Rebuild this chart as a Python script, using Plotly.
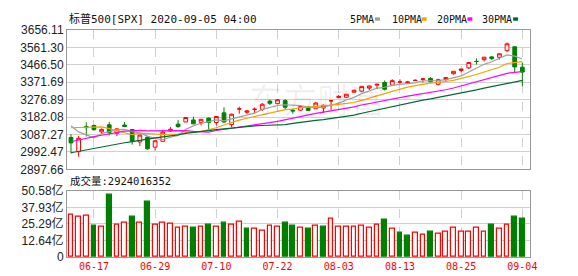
import plotly.graph_objects as go
import pandas as pd

# ---------------- data ----------------
dates = ["06-12","06-15","06-16","06-17","06-18","06-19","06-22","06-23","06-24","06-25",
         "06-26","06-29","06-30","07-01","07-02","07-06","07-07","07-08","07-09","07-10",
         "07-13","07-14","07-15","07-16","07-17","07-20","07-21","07-22","07-23","07-24",
         "07-27","07-28","07-29","07-30","07-31","08-03","08-04","08-05","08-06","08-07",
         "08-10","08-11","08-12","08-13","08-14","08-17","08-18","08-19","08-20","08-21",
         "08-24","08-25","08-26","08-27","08-28","08-31","09-01","09-02","09-03","09-04"]

opens = [3071.04,2993.76,3131.00,3136.13,3101.64,3140.29,3094.42,3138.70,3114.40,3046.60,
         3073.20,3018.59,3050.20,3105.92,3143.64,3155.29,3166.44,3153.07,3176.17,3152.47,
         3205.08,3141.11,3225.98,3208.36,3224.21,3224.29,3268.52,3254.86,3271.64,3218.58,
         3219.84,3234.27,3227.22,3231.76,3270.45,3288.26,3289.92,3317.37,3323.17,3340.05,
         3356.04,3370.34,3355.46,3372.95,3368.66,3380.86,3387.04,3392.51,3360.48,3386.01,
         3418.09,3435.95,3449.97,3485.14,3494.69,3509.73,3507.44,3543.76,3564.74,3453.60]
highs = [3088.42,3079.76,3153.45,3141.16,3120.00,3155.53,3120.92,3154.90,3115.01,3086.25,
         3073.73,3053.89,3111.51,3128.44,3165.81,3182.59,3184.15,3171.80,3179.78,3186.82,
         3235.32,3200.95,3238.28,3220.39,3233.52,3258.61,3277.29,3279.32,3279.99,3227.26,
         3241.43,3243.72,3264.74,3250.92,3272.17,3302.73,3306.84,3330.77,3351.03,3352.54,
         3363.29,3381.01,3387.89,3387.24,3378.51,3387.59,3395.06,3399.54,3390.80,3399.96,
         3432.09,3444.21,3481.07,3501.38,3509.23,3514.77,3528.03,3588.11,3564.85,3479.15]
lows = [2984.47,2965.66,3076.06,3108.03,3093.51,3083.11,3079.39,3127.12,3032.13,3024.01,
        3004.63,2999.74,3047.83,3101.17,3124.52,3155.29,3142.93,3136.53,3115.70,3136.22,
        3149.43,3127.66,3200.76,3198.59,3205.65,3215.16,3247.77,3253.10,3222.66,3200.05,
        3214.25,3216.17,3227.22,3204.13,3220.26,3284.53,3286.37,3317.37,3318.14,3328.72,
        3335.44,3326.44,3355.46,3363.35,3361.64,3379.22,3370.15,3369.66,3354.69,3379.31,
        3413.13,3425.84,3444.15,3468.35,3484.32,3493.25,3494.60,3535.23,3427.41,3349.63]
closes = [3041.31,3066.59,3124.74,3113.49,3115.34,3097.74,3117.86,3131.29,3050.33,3083.76,
          3009.05,3053.24,3100.29,3115.86,3130.01,3179.72,3145.32,3169.94,3152.05,3185.04,
          3155.22,3197.52,3226.56,3215.57,3224.73,3251.84,3257.30,3276.02,3235.66,3215.63,
          3239.41,3218.44,3258.44,3246.22,3271.12,3294.61,3306.51,3327.77,3349.16,3351.28,
          3360.47,3333.69,3380.35,3373.43,3372.85,3381.99,3389.78,3374.85,3385.51,3397.16,
          3431.28,3443.62,3478.73,3484.55,3508.01,3500.31,3526.65,3580.84,3455.06,3426.96]
# closes of the 29 sessions before 06-12 (needed for the moving averages)
prior_closes = [2830.71,2842.74,2868.44,2848.42,2881.19,2929.80,2930.19,2870.12,2820.00,2852.50,
                2863.70,2953.91,2922.94,2971.61,2948.51,2955.45,2991.77,3036.13,3029.73,3044.31,
                3055.73,3080.82,3122.87,3112.35,3193.93,3232.39,3207.18,3190.14,3002.10]

# volume in 亿 (1e8)
volumes = [32.6,30.4,31.8,23.9,23.0,47.4,24.4,26.4,31.1,25.9,
           42.2,24.9,26.4,25.7,22.2,23.0,22.2,23.0,24.4,23.0,
           25.9,24.9,27.2,21.5,21.5,19.8,23.5,23.0,25.9,23.9,
           22.2,21.5,23.7,23.0,29.4,23.0,23.0,23.0,23.7,22.2,
           24.4,28.1,21.2,18.5,16.3,18.3,17.0,19.3,17.8,19.3,
           22.0,19.3,19.3,22.0,19.3,24.4,21.5,24.9,30.4,29.24]

tick_dates = ["06-17","06-29","07-10","07-22","08-03","08-13","08-25","09-04"]
price_ticks = [2897.66,2992.47,3087.27,3182.08,3276.89,3371.69,3466.50,3561.30,3656.11]
price_tick_text = ["2897.66","2992.47","3087.27","3182.08","3276.89","3371.69","3466.50","3561.30","3656.11"]
vol_ticks = [0,12.64,25.29,37.93,50.58]
vol_tick_text = ["0","12.64亿","25.29亿","37.93亿","50.58亿"]
ma_periods = [5,10,20,30]
ma_names = ["5PMA","10PMA","20PMA","30PMA"]
title_text = "标普500[SPX] 2020-09-05 04:00"
vol_text = "成交量:2924016352"

# ---------------- styling ----------------
RED = "#ff0000"
GREEN = "#008000"
MA_COLORS = ["#a0a0a0", "#f5a300", "#ff00ff", "#006b30"]
GRID = "#d0d0d0"
BORDER = "#999999"

L, R, T, B = 56, 56, 22, 21
W, H = 578, 276
PW, PH = W - L - R, H - T - B
def px(xp):  # pixel -> paper x
    return (xp - L) / PW
def py(yp):  # pixel -> paper y
    return (H - B - yp) / PH

n = len(dates)
xs = list(range(n))
all_closes = pd.Series(prior_closes + closes)
prev_close = [prior_closes[-1]] + closes[:-1]

fig = go.Figure()

# moving averages
for per, name, col in zip(ma_periods, ma_names, MA_COLORS):
    ma = all_closes.rolling(per).mean().iloc[-n:].tolist()
    fig.add_trace(go.Scatter(x=xs, y=ma, mode="lines", line=dict(color=col, width=1.2),
                             name=name, xaxis="x", yaxis="y", hoverinfo="skip"))

fig.add_trace(go.Candlestick(
    x=xs, open=opens, high=highs, low=lows, close=closes,
    increasing=dict(line=dict(color=RED, width=1), fillcolor="#ffffff"),
    decreasing=dict(line=dict(color=GREEN, width=1), fillcolor=GREEN),
    whiskerwidth=0, xaxis="x", yaxis="y", name="SPX"))

up = [c >= p for c, p in zip(closes, prev_close)]
fig.add_trace(go.Bar(
    x=xs, y=volumes, width=0.62, xaxis="x2", yaxis="y2",
    marker=dict(color=["#ffffff" if u else GREEN for u in up],
                line=dict(color=[RED if u else GREEN for u in up], width=1.2))))

tickvals = [dates.index(d) for d in tick_dates]

common_x = dict(range=[-0.52, 60.0], tickvals=tickvals, showgrid=True, griddash="dash",
                gridcolor=GRID, gridwidth=1, showline=True, mirror=True, linecolor=BORDER,
                linewidth=1, zeroline=False, ticks="", fixedrange=True)
fig.update_layout(
    width=W, height=H, margin=dict(l=L, r=R, t=T, b=B),
    paper_bgcolor="white", plot_bgcolor="white", showlegend=False,
    xaxis=dict(common_x, domain=[0, 1], anchor="y", showticklabels=False,
               rangeslider=dict(visible=False)),
    xaxis2=dict(common_x, domain=[0, 1], anchor="y2", matches="x",
                ticktext=tick_dates, showticklabels=True,
                tickfont=dict(family="DejaVu Sans Mono", size=10, color=RED)),
    yaxis=dict(domain=[py(165), 1], range=[price_ticks[0], price_ticks[-1]],
               tickvals=price_ticks, ticktext=price_tick_text, showgrid=True,
               gridcolor=GRID, showline=True, mirror=True, linecolor=BORDER,
               zeroline=False, ticks="",
               tickfont=dict(family="Liberation Sans", size=12, color="#222222")),
    yaxis2=dict(domain=[0, py(187)], range=[0, 50.58],
                tickvals=vol_ticks, ticktext=vol_tick_text, showgrid=True,
                gridcolor=GRID, showline=True, mirror=True, linecolor=BORDER,
                zeroline=False, ticks="",
                tickfont=dict(family="Liberation Sans, Noto Sans CJK SC", size=12, color="#222222")),
    bargap=0,
)

mono = "DejaVu Sans Mono, Noto Sans CJK SC"
ann = [
    dict(text=title_text, x=px(56), y=py(11), xanchor="left", yanchor="middle",
         font=dict(family=mono, size=11, color="#111111")),
    dict(text=vol_text, x=px(57), y=py(177), xanchor="left", yanchor="middle",
         font=dict(family=mono, size=10.5, color="#111111")),
    dict(text="东方财富", x=px(308), y=py(92), xanchor="center", yanchor="middle",
         font=dict(family="Noto Sans CJK SC", size=34, color="rgba(0,0,0,0.06)")),
]
leg_x = [339, 381, 426, 472]
sq_x = [366, 413, 459, 505]
shapes = []
for name, col, lx, sx in zip(ma_names, MA_COLORS, leg_x, sq_x):
    ann.append(dict(text=name, x=px(lx), y=py(11), xanchor="left", yanchor="middle",
                    font=dict(family="DejaVu Sans Mono", size=10, color="#111111")))
    shapes.append(dict(type="rect", xref="paper", yref="paper", x0=px(sx), x1=px(sx + 5),
                       y0=py(12.5), y1=py(9), fillcolor=col, line=dict(width=0)))
for a in ann:
    a.update(xref="paper", yref="paper", showarrow=False)
fig.update_layout(annotations=ann, shapes=shapes)

fig.write_html("out.html")
